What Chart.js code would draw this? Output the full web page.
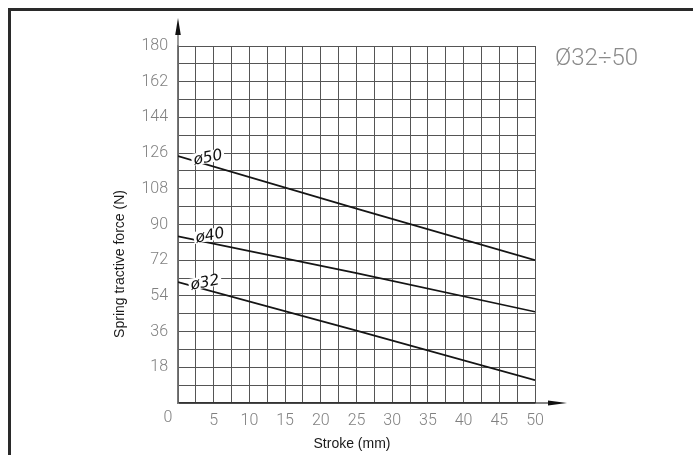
<!DOCTYPE html>
<html>
<head>
<meta charset="utf-8">
<script src="https://cdn.jsdelivr.net/npm/chart.js@4.4.1/dist/chart.umd.min.js"></script>
<style>
html,body{margin:0;padding:0;background:#fff;}
#wrap{width:693px;height:455px;position:relative;}
</style>
</head>
<body>
<div id="wrap"><canvas id="c" width="693" height="455"></canvas></div>
<script>
// ---- data ----
const strokes = [0, 25, 50];
const force50 = [124.5, 98, 72];
const force40 = [84, 65.5, 46];
const force32 = [61, 36.5, 11.5];
const seriesNames = ['ø50', 'ø40', 'ø32'];
const xTickLabels = [5, 10, 15, 20, 25, 30, 35, 40, 45, 50];
const yTickLabels = [18, 36, 54, 72, 90, 108, 126, 144, 162, 180];
const yTitle = 'Spring tractive force (N)';
const xTitle = 'Stroke (mm)';
const cornerNote = 'Ø32÷50';

const toPts = arr => strokes.map((s, i) => ({x: s, y: arr[i]}));
const lineStyle = {borderColor: '#151515', borderWidth: 1.7, pointRadius: 0, fill: false, tension: 0};

// label anchors in data units (stroke, force)
const labelAnchors = [[4.2, 123.5], [4.5, 84.2], [3.8, 60.5]];

const TICK_FONT = 'Roboto, "Liberation Sans", sans-serif';

const decor = {
  id: 'decor',
  afterDraw(chart) {
    const ctx = chart.ctx;
    const xs = chart.scales.x, ys = chart.scales.y;
    const x0 = xs.getPixelForValue(0), y0 = ys.getPixelForValue(0);
    const xTop = ys.getPixelForValue(180), xEnd = xs.getPixelForValue(50);
    ctx.save();
    // frame
    ctx.strokeStyle = '#2a2a2a';
    ctx.lineWidth = 3;
    ctx.beginPath();
    ctx.moveTo(693, 9.5); ctx.lineTo(9.5, 9.5); ctx.lineTo(9.5, 455);
    ctx.stroke();
    // y arrow
    ctx.strokeStyle = '#777'; ctx.lineWidth = 1.5;
    ctx.beginPath(); ctx.moveTo(x0, xTop); ctx.lineTo(x0, 34); ctx.stroke();
    ctx.fillStyle = '#111';
    ctx.beginPath(); ctx.moveTo(x0, 18); ctx.lineTo(x0 - 2.8, 35); ctx.lineTo(x0 + 2.8, 35); ctx.closePath(); ctx.fill();
    // x arrow
    ctx.strokeStyle = '#333'; ctx.lineWidth = 1.2;
    ctx.beginPath(); ctx.moveTo(xEnd, y0); ctx.lineTo(549, y0); ctx.stroke();
    ctx.beginPath(); ctx.moveTo(567, y0); ctx.lineTo(548, y0 - 2.6); ctx.lineTo(548, y0 + 2.6); ctx.closePath(); ctx.fill();
    // "0" tick label offset left of the axis
    ctx.fillStyle = '#808080';
    ctx.font = '300 16px ' + TICK_FONT;
    ctx.textAlign = 'center'; ctx.textBaseline = 'middle';
    ctx.fillText('0', x0 - 10, y0 + 15);
    // series labels
    ctx.font = 'italic 15.5px "DejaVu Sans", sans-serif';
    seriesNames.forEach((n, i) => {
      const px = xs.getPixelForValue(labelAnchors[i][0]);
      const py = ys.getPixelForValue(labelAnchors[i][1]);
      ctx.save();
      ctx.translate(px, py);
      ctx.rotate(-0.19);
      const w = ctx.measureText(n).width;
      ctx.fillStyle = '#fff';
      ctx.fillRect(-w / 2 - 2, -7, w + 4, 12);
      ctx.fillStyle = '#111';
      ctx.textAlign = 'center'; ctx.textBaseline = 'middle';
      ctx.fillText(n, 0, 0);
      ctx.restore();
    });
    // axis titles
    ctx.fillStyle = '#1a1a1a';
    ctx.font = '14px "Liberation Sans", Arial, sans-serif';
    ctx.textAlign = 'center'; ctx.textBaseline = 'middle';
    ctx.fillText(xTitle, 352, 444);
    ctx.save();
    ctx.translate(120, 264);
    ctx.rotate(-Math.PI / 2);
    ctx.fillText(yTitle, 0, 0);
    ctx.restore();
    // corner note
    ctx.fillStyle = '#8a8a8a';
    ctx.font = '300 24px ' + TICK_FONT;
    ctx.textAlign = 'left'; ctx.textBaseline = 'alphabetic';
    ctx.fillText(cornerNote, 555, 65);
    ctx.restore();
  }
};

new Chart(document.getElementById('c'), {
  type: 'line',
  data: {
    datasets: [
      Object.assign({label: seriesNames[0], data: toPts(force50)}, lineStyle),
      Object.assign({label: seriesNames[1], data: toPts(force40)}, lineStyle),
      Object.assign({label: seriesNames[2], data: toPts(force32)}, lineStyle)
    ]
  },
  options: {
    responsive: false,
    devicePixelRatio: 1,
    animation: false,
    layout: {padding: {left: 0, top: 46, right: 158, bottom: 0}},
    plugins: {legend: {display: false}, tooltip: {enabled: false}},
    scales: {
      x: {
        type: 'linear', min: 0, max: 50,
        afterFit(s) { s.height = 52; },
        grid: {color: '#555', lineWidth: 1, drawTicks: false},
        border: {display: true, color: '#333', width: 1.2},
        ticks: {
          stepSize: 2.5, autoSkip: false, maxRotation: 0, padding: 8,
          color: '#808080', font: {size: 16, weight: 300, family: TICK_FONT},
          callback: v => xTickLabels.includes(v) ? String(v) : ''
        }
      },
      y: {
        type: 'linear', min: 0, max: 180,
        afterFit(s) { s.width = 178; },
        grid: {color: '#555', lineWidth: 1, drawTicks: false},
        border: {display: true, color: '#777', width: 1.5},
        ticks: {
          stepSize: 9, autoSkip: false, padding: 10,
          color: '#808080', font: {size: 16, weight: 300, family: TICK_FONT},
          callback: v => yTickLabels.includes(v) ? String(v) : ''
        }
      }
    }
  },
  plugins: [decor]
});
</script>
</body>
</html>
